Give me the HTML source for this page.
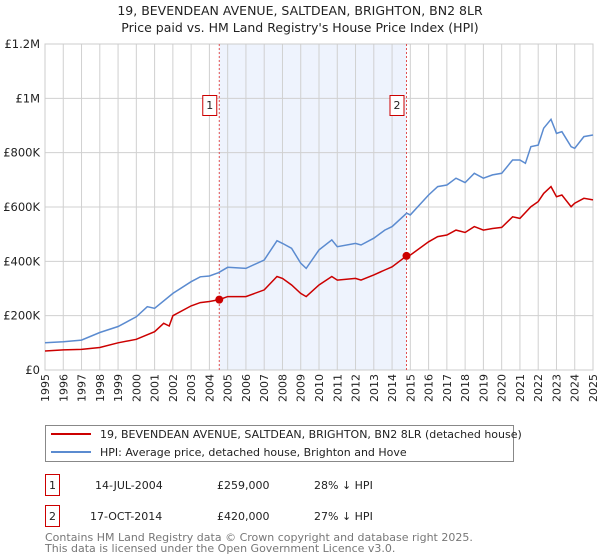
<!DOCTYPE html>
<html><head><meta charset="utf-8"><style>
body{margin:0;background:#fff;font-family:"DejaVu Sans","Liberation Sans",sans-serif;}
svg{display:block}
</style></head><body>
<svg width="600" height="560" xmlns="http://www.w3.org/2000/svg" font-family="DejaVu Sans, Liberation Sans, sans-serif">
<text x="300" y="15" text-anchor="middle" font-size="12.5" fill="#222">19, BEVENDEAN AVENUE, SALTDEAN, BRIGHTON, BN2 8LR</text>
<text x="300" y="32" text-anchor="middle" font-size="12.5" fill="#222">Price paid vs. HM Land Registry's House Price Index (HPI)</text>
<g id="plot"></g>
<g>
<rect x="45.5" y="425.5" width="468" height="36" fill="#fff" stroke="#888"/>
<line x1="51" y1="434" x2="91" y2="434" stroke="#cc0000" stroke-width="2"/>
<text x="100" y="438" font-size="11" fill="#222">19, BEVENDEAN AVENUE, SALTDEAN, BRIGHTON, BN2 8LR (detached house)</text>
<line x1="51" y1="452" x2="91" y2="452" stroke="#5b8bd0" stroke-width="2"/>
<text x="100" y="456" font-size="11" fill="#222">HPI: Average price, detached house, Brighton and Hove</text>
</g>
<g font-size="11" fill="#222">
<rect x="45.5" y="474.5" width="14" height="21" fill="#fff" stroke="#cc0000"/>
<text x="52.5" y="489" text-anchor="middle">1</text>
<text x="95" y="489">14-JUL-2004</text><text x="217" y="489">£259,000</text><text x="314" y="489">28% ↓ HPI</text>
<rect x="45.5" y="505.5" width="14" height="21" fill="#fff" stroke="#cc0000"/>
<text x="52.5" y="520" text-anchor="middle">2</text>
<text x="90" y="520">17-OCT-2014</text><text x="217" y="520">£420,000</text><text x="314" y="520">27% ↓ HPI</text>
</g>
<text x="45" y="541" font-size="11" fill="#777">Contains HM Land Registry data © Crown copyright and database right 2025.</text>
<text x="45" y="552" font-size="11" fill="#777">This data is licensed under the Open Government Licence v3.0.</text>
</svg>
<script>
const hpiYears=[1995,1996,1997,1998,1999,2000,2000.6,2001,2002,2003,2003.5,2004,2004.5,2005,2006,2007,2007.7,2008,2008.5,2009,2009.3,2010,2010.7,2011,2012,2012.3,2013,2013.6,2014,2014.8,2015,2016,2016.5,2017,2017.5,2018,2018.5,2019,2019.5,2020,2020.6,2021,2021.3,2021.6,2022,2022.3,2022.7,2023,2023.3,2023.8,2024,2024.5,2025];
const hpiValues=[100,104,110,138,160,196,233,227,282,325,343,346,358,378,374,405,476,466,448,393,374,442,479,454,466,460,485,515,528,577,571,644,675,681,706,690,724,706,718,724,773,773,761,822,828,890,923,871,877,822,816,859,865];
const propYears=[1995,1996,1997,1998,1999,2000,2001,2001.5,2001.8,2002,2003,2003.5,2004,2004.54,2005,2006,2007,2007.7,2008,2008.5,2009,2009.3,2010,2010.7,2011,2012,2012.3,2013,2013.6,2014,2014.79,2015,2016,2016.5,2017,2017.5,2018,2018.5,2019,2019.5,2020,2020.6,2021,2021.6,2022,2022.3,2022.7,2023,2023.3,2023.8,2024,2024.5,2025];
const propValues=[70,74,76,83,100,113,141,172,162,200,236,248,252,259,270,270,295,344,337,313,282,270,313,344,331,337,331,350,368,380,420,423,472,491,497,515,506,528,515,521,525,564,558,601,620,650,675,638,644,601,614,632,626];
const saleYears=[2004.54,2014.79];
const saleValues=[259,420];
const saleLabels=["1","2"];
const yTicks=[0,200,400,600,800,1000,1200];
const yTickLabels=["£0","£200K","£400K","£600K","£800K","£1M","£1.2M"];
const xTicks=[1995,1996,1997,1998,1999,2000,2001,2002,2003,2004,2005,2006,2007,2008,2009,2010,2011,2012,2013,2014,2015,2016,2017,2018,2019,2020,2021,2022,2023,2024,2025];

const L=45,R=593,T=44,B=370;
const xs=y=>L+(y-1995)/30*(R-L);
const ys=v=>B-v/1200*(B-T);
const NS="http://www.w3.org/2000/svg";
const g=document.getElementById('plot');
function mk(tag,attrs,parent){const e=document.createElementNS(NS,tag);for(const k in attrs)e.setAttribute(k,attrs[k]);(parent||g).appendChild(e);return e;}
const bg=mk('rect',{x:L,y:T,width:R-L,height:B-T,fill:'#fff'});


const sh=mk('rect',{x:xs(saleYears[0]),y:T,width:xs(saleYears[1])-xs(saleYears[0]),height:B-T,fill:'#eef3fd'});


xTicks.forEach(t=>{
 const l=mk('line',{x1:xs(t),x2:xs(t),y1:T,y2:B,stroke:'#d0d0d0','stroke-width':1});
 
 
 const wrap=mk('g',{transform:'translate('+(xs(t)+4)+','+(B+4)+') rotate(-90)'});
 const tx=mk('text',{x:0,y:0,'font-size':11,fill:'#222','text-anchor':'end'},wrap);
 tx.textContent=t;
 
 
});
yTicks.forEach((t,i)=>{
 const l=mk('line',{x1:L,x2:R,y1:ys(t),y2:ys(t),stroke:'#d0d0d0','stroke-width':1});
 
 
 const tx=mk('text',{x:L-5,y:ys(t)+4,'font-size':11.5,fill:'#222','text-anchor':'end'});
 tx.textContent=yTickLabels[i];
 
 
});
const fr=mk('rect',{x:L,y:T,width:R-L,height:B-T,fill:'none',stroke:'#ccc'});


saleYears.forEach((y,i)=>{
 const l=mk('line',{x1:xs(y),x2:xs(y),y1:T,y2:B,stroke:'#e05050','stroke-width':1,'stroke-dasharray':'2,2'});
 
 
});
function path(xsArr,vArr,color,name){
 const d=xsArr.map((y,i)=>(i?'L':'M')+xs(y).toFixed(1)+','+ys(vArr[i]).toFixed(1)).join('');
 const p=mk('path',{d:d,fill:'none',stroke:color,'stroke-width':1.5});
 
 
}
path(hpiYears,hpiValues,'#5b8bd0','hpi-line');
path(propYears,propValues,'#cc0000','property-price-line');
saleYears.forEach((y,i)=>{
 const c=mk('circle',{cx:xs(y),cy:ys(saleValues[i]),r:4,fill:'#cc0000'});
 
 
 const b=mk('rect',{x:xs(y)-16.5,y:95.5,width:14,height:20,fill:'#fff',stroke:'#cc0000'});
 
 
 const t=mk('text',{x:xs(y)-9.5,y:109,'font-size':11,fill:'#222','text-anchor':'middle'});
 t.textContent=saleLabels[i];
 
 
});
</script>
</body></html>
